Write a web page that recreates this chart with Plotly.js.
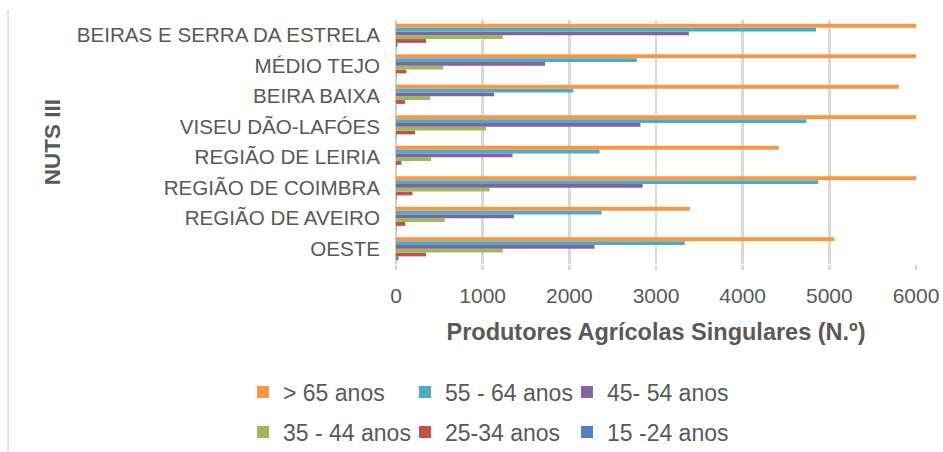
<!DOCTYPE html>
<html>
<head>
<meta charset="utf-8">
<script src="https://cdn.plot.ly/plotly-3.0.1.min.js"></script>
<style>html,body{margin:0;padding:0;background:#fff;}#chart{width:943px;height:452px;}</style>
</head>
<body>
<div id="chart"></div>
<script>
// Categories listed bottom-to-top
const regions = ['OESTE', 'REGIÃO DE AVEIRO', 'REGIÃO DE COIMBRA', 'REGIÃO DE LEIRIA',
  'VISEU DÃO-LAFÓES', 'BEIRA BAIXA', 'MÉDIO TEJO', 'BEIRAS E SERRA DA ESTRELA'];
const seriesNames = ['15 -24 anos', '25-34 anos', '35 - 44 anos', '45- 54 anos', '55 - 64 anos', '> 65 anos'];
const seriesColors = ['#4F81BD', '#C0504D', '#9BBB59', '#8064A2', '#4BACC6', '#F79646'];
const age15_24 = [29, 5, 8, 4, 6, 3, 4, 17];
const age25_34 = [347, 108, 190, 62, 219, 103, 120, 347];
const age35_44 = [1232, 562, 1079, 405, 1038, 393, 546, 1232];
const age45_54 = [2291, 1361, 2845, 1344, 2821, 1133, 1720, 3379];
const age55_64 = [3333, 2374, 4872, 2349, 4735, 2047, 2779, 4847];
const age65plus = [5058, 3391, 7300, 4417, 8200, 5802, 6700, 7800];
const xTicks = [0, 1000, 2000, 3000, 4000, 5000, 6000];

const allValues = [age15_24, age25_34, age35_44, age45_54, age55_64, age65plus];
const legendOf = ['legend2', 'legend2', 'legend2', 'legend', 'legend', 'legend'];

const traces = allValues.map((vals, i) => ({
  type: 'bar', orientation: 'h',
  name: seriesNames[i], x: vals, y: regions,
  marker: {color: seriesColors[i], line: {width: 0}},
  legend: legendOf[i],
  hoverinfo: 'x+name'
}));

const font = {family: '"Liberation Sans", Arial, sans-serif', color: '#595959'};
const legendCommon = {
  orientation: 'h', xanchor: 'left', yanchor: 'middle',
  xref: 'container', yref: 'container',
  traceorder: 'reversed', font: Object.assign({}, font, {size: 23}),
  entrywidth: 117, entrywidthmode: 'pixels', bgcolor: 'rgba(0,0,0,0)'
};

const layout = {
  width: 943, height: 452,
  margin: {l: 396, r: 27, t: 20, b: 188},
  paper_bgcolor: '#fff', plot_bgcolor: '#fff',
  font: font,
  barmode: 'group', bargap: 0.25, bargroupgap: 0,
  showlegend: true,
  xaxis: {
    range: [0, 6000], tickvals: xTicks, ticktext: xTicks.map(String),
    showgrid: true, gridcolor: '#d9d9d9', gridwidth: 2.5,
    zeroline: true, zerolinecolor: '#d0d0d0', zerolinewidth: 2.5,
    ticks: 'outside', ticklen: 5, tickcolor: '#d9d9d9', tickwidth: 2.5,
    ticklabelstandoff: 8,
    tickfont: Object.assign({}, font, {size: 21}),
    title: {text: 'Produtores Agrícolas Singulares (N.º)', standoff: 17,
      font: {family: font.family, color: '#595959', size: 23.5, weight: 'bold'}},
    automargin: false,
    fixedrange: true
  },
  yaxis: {
    type: 'category', categoryorder: 'array', categoryarray: regions,
    showgrid: false, zeroline: false, showline: false, ticks: '',
    ticklabelstandoff: 15,
    tickfont: Object.assign({}, font, {size: 20.6}),
    title: {text: 'NUTS III', standoff: 9,
      font: {family: font.family, color: '#595959', size: 22.5, weight: 'bold'}},
    automargin: false,
    fixedrange: true
  },
  shapes: [{
    type: 'line', xref: 'paper', yref: 'paper',
    x0: -0.746, x1: -0.746, y0: 1.041, y1: -0.775,
    line: {color: '#dcdcdc', width: 1.5}
  }],
  legend: Object.assign({}, legendCommon, {x: 0.2577, y: 0.1327}),
  legend2: Object.assign({}, legendCommon, {x: 0.2577, y: 0.0442})
};

Plotly.newPlot('chart', traces, layout, {displayModeBar: false, staticPlot: true});
</script>
</body>
</html>
